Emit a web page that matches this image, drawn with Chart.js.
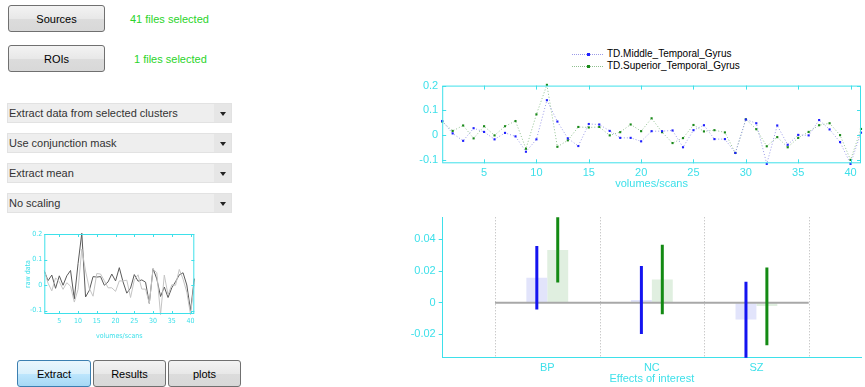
<!DOCTYPE html>
<html>
<head>
<meta charset="utf-8">
<script src="https://cdn.jsdelivr.net/npm/chart.js@4.4.1/dist/chart.umd.min.js"></script>
<style>
  body { margin: 0; width: 865px; height: 387px; background: #fff; position: relative; overflow: hidden;
         font-family: "Liberation Sans", Arial, sans-serif; }
  .btn { position: absolute; height: 27px; border: 1px solid #707070; border-radius: 3px; box-sizing: border-box;
         background: linear-gradient(#f3f3f3, #e8e8e8 50%, #dcdcdc 51%, #d8d8d8); font-size: 11px; color: #000;
         display: flex; align-items: center; justify-content: center; }
  .btn.sel { border-color: #3c7fb1; background: linear-gradient(#eaf6fd, #d9f0fc 50%, #bee6fd 51%, #a7d9f5); }
  .msg { position: absolute; font-size: 11px; color: #2ad42a; }
  .drop { position: absolute; left: 7px; width: 225px; height: 20px; background: #eeeeee; border: 1px solid #e2e2e2;
          box-sizing: border-box; font-size: 11px; color: #333; line-height: 18px; padding-left: 1px; }
  .drop::after { content: ""; position: absolute; right: 0; top: 0; width: 17px; height: 18px; background: #e6e6e6; }
  .drop span { position: absolute; right: 5px; top: 8px; width: 0; height: 0; border-left: 3px solid transparent;
               border-right: 3px solid transparent; border-top: 4px solid #222; z-index: 1; }
  canvas { position: absolute; }
  .leg { position: absolute; left: 572px; font-size: 10px; color: #000; height: 12px; }
  .leg i { position: absolute; left: 0; top: 6px; width: 31px; border-top: 1px dotted; }
  .leg b { position: absolute; left: 15px; top: 5px; width: 3px; height: 3px; }
  .leg em { position: absolute; left: 35px; top: 0; font-style: normal; white-space: nowrap; }
</style>
</head>
<body>
<div class="btn" style="left:8px;top:5px;width:97px;">Sources</div>
<div class="msg" style="left:130px;top:13px;">41 files selected</div>
<div class="btn" style="left:8px;top:45px;width:97px;">ROIs</div>
<div class="msg" style="left:134px;top:53px;">1 files selected</div>
<div class="drop" style="top:103px;">Extract data from selected clusters<span></span></div>
<div class="drop" style="top:133px;">Use conjunction mask<span></span></div>
<div class="drop" style="top:163px;">Extract mean<span></span></div>
<div class="drop" style="top:193px;">No scaling<span></span></div>
<div class="btn sel" style="left:17px;top:360px;width:74px;">Extract</div>
<div class="btn" style="left:93px;top:360px;width:73px;">Results</div>
<div class="btn" style="left:168px;top:360px;width:73px;">plots</div>

<div class="leg" style="top:48px;"><i style="border-color:#9a9ae8"></i><b style="background:#2020ff"></b><em>TD.Middle_Temporal_Gyrus</em></div>
<div class="leg" style="top:60px;"><i style="border-color:#90c090"></i><b style="background:#1a8a1a"></b><em>TD.Superior_Temporal_Gyrus</em></div>

<canvas id="thumb" width="200" height="117" style="left:0;top:225px;"></canvas>
<canvas id="series" width="470" height="120" style="left:395px;top:75px;"></canvas>
<canvas id="effects" width="470" height="182" style="left:395px;top:205px;"></canvas>

<script>
// scans (volumes) and the two ROI time series
var scans = [1,2,3,4,5,6,7,8,9,10,11,12,13,14,15,16,17,18,19,20,21,22,23,24,25,26,27,28,29,30,31,32,33,34,35,36,37,38,39,40,41];
var middleTG = [0.057, 0.007, -0.023, 0.028, 0.013, -0.017, 0.009, -0.005, -0.067, -0.017,
                0.141, 0.055, -0.013, -0.044, 0.045, 0.043, 0.017, -0.011, -0.011, -0.025,
                0.016, 0.016, 0.019, -0.049, 0.020, 0.040, -0.016, -0.016, -0.072, 0.063,
                0.048, -0.116, 0.039, -0.039, 0.001, -0.001, 0.061, 0.023, -0.028, -0.116, 0.010];
var superiorTG = [0.055, 0.017, 0.039, -0.013, 0.036, -0.001, 0.036, 0.057, -0.055, 0.084,
                  0.203, -0.047, -0.021, 0.033, 0.031, 0.033, -0.001, 0.012, 0.043, 0.016,
                  0.068, 0.012, -0.032, -0.012, 0.041, 0.015, 0.020, 0.011, -0.072, 0.064,
                  0.024, -0.045, -0.008, -0.049, -0.011, 0.013, 0.040, 0.048, 0.000, -0.100, 0.025];
var seriesTicks = [-0.1, 0, 0.1, 0.2];

// effects of interest
var groups = ['BP', 'NC', 'SZ'];
var middleEff = [0.0158, 0.0017, -0.0105];
var superiorEff = [0.0333, 0.0147, -0.0021];
var middleLow = [-0.0042, -0.0198, -0.0360];
var middleHigh = [0.0358, 0.0232, 0.0133];
var superiorLow = [0.0128, -0.0072, -0.0269];
var superiorHigh = [0.0570, 0.0366, 0.0223];
var effectTicks = [-0.02, 0, 0.02, 0.04];

var cyan = '#3ee0ea';
var font = 'Liberation Sans, Arial, sans-serif';

// matlab style box with ticks pointing inside
var boxTicks = {
    id: 'boxTicks',
    afterDraw: function(chart, args, opts) {
        var ctx = chart.ctx, a = chart.chartArea;
        var xs = chart.scales.x, ys = chart.scales.y;
        var len = opts.len || 4;
        ctx.save();
        ctx.strokeStyle = cyan;
        ctx.lineWidth = 1;
        ctx.strokeRect(a.left + 0.5, a.top + 0.5, a.right - a.left - 1, a.bottom - a.top - 1);
        ctx.beginPath();
        xs.ticks.forEach(function(t, i) {
            if ((i + 1) % 5 !== 0) return;
            var px = Math.round(xs.getPixelForTick(i)) + 0.5;
            ctx.moveTo(px, a.top); ctx.lineTo(px, a.top + len);
            ctx.moveTo(px, a.bottom); ctx.lineTo(px, a.bottom - len);
        });
        ys.ticks.forEach(function(t) {
            var py = Math.round(ys.getPixelForValue(t.value)) + 0.5;
            ctx.moveTo(a.left, py); ctx.lineTo(a.left + len, py);
            ctx.moveTo(a.right, py); ctx.lineTo(a.right - len, py);
        });
        ctx.stroke();
        ctx.restore();
    }
};

function fixTicks(list) {
    return function(scale) { scale.ticks = list.map(function(v) { return { value: v }; }); };
}

function everyFifth(val, i) { return (i + 1) % 5 === 0 ? this.getLabelForValue(val) : ''; }

// top: time series
new Chart(document.getElementById('series'), {
    type: 'line',
    data: {
        labels: scans,
        datasets: [{
            label: 'TD.Middle_Temporal_Gyrus',
            data: middleTG,
            borderColor: '#9a9ae8',
            borderWidth: 1,
            borderDash: [1, 2],
            pointStyle: 'rect',
            pointRadius: 1.5,
            pointBackgroundColor: '#2020ff',
            pointBorderWidth: 0,
            clip: false
        }, {
            label: 'TD.Superior_Temporal_Gyrus',
            data: superiorTG,
            borderColor: '#90c090',
            borderWidth: 1,
            borderDash: [1, 2],
            pointStyle: 'rect',
            pointRadius: 1.5,
            pointBackgroundColor: '#1a8a1a',
            pointBorderWidth: 0,
            clip: false
        }]
    },
    options: {
        responsive: false, animation: false, devicePixelRatio: 1,
        layout: { padding: { top: 8.3, right: 1.2, bottom: 0, left: 0 } },
        plugins: { legend: { display: false }, tooltip: { enabled: false }, boxTicks: { len: 4 } },
        scales: {
            x: {
                offset: false,
                grid: { display: false, drawTicks: false },
                border: { display: false },
                ticks: { autoSkip: false, maxRotation: 0, padding: 3, color: cyan, font: { family: font, size: 11 }, callback: everyFifth },
                title: { display: true, text: 'volumes/scans', color: cyan, font: { family: font, size: 11 }, padding: { top: 0, bottom: 4 } },
                afterFit: function(s) { s.height = 31.7; }
            },
            y: {
                min: -0.1137, max: 0.2,
                grid: { display: false, drawTicks: false },
                border: { display: false },
                afterBuildTicks: fixTicks(seriesTicks),
                ticks: { padding: 4, color: cyan, font: { family: font, size: 11 }, callback: function(v) { return String(v); } },
                afterFit: function(s) { s.width = 47.2; }
            }
        }
    },
    plugins: [boxTicks]
});

// left: small raw data preview
new Chart(document.getElementById('thumb'), {
    type: 'line',
    data: {
        labels: scans,
        datasets: [{
            data: middleTG, borderColor: '#c4c4c4', borderWidth: 1, pointRadius: 0, clip: false
        }, {
            data: superiorTG, borderColor: '#5a5a5a', borderWidth: 1, pointRadius: 0, clip: false
        }]
    },
    options: {
        responsive: false, animation: false, devicePixelRatio: 1,
        layout: { padding: { top: 9, right: 5.7, bottom: 0, left: 24 } },
        plugins: { legend: { display: false }, tooltip: { enabled: false }, boxTicks: { len: 3 } },
        scales: {
            x: {
                offset: false,
                grid: { display: false, drawTicks: false },
                border: { display: false },
                ticks: { autoSkip: false, maxRotation: 0, padding: 3, color: cyan, font: { family: 'DejaVu Sans Condensed', size: 7 }, callback: everyFifth },
                title: { display: true, text: 'volumes/scans', color: cyan, font: { family: 'DejaVu Sans Condensed', size: 7 }, padding: { top: 0, bottom: 2 } },
                afterFit: function(s) { s.height = 28; }
            },
            y: {
                min: -0.1137, max: 0.2,
                grid: { display: false, drawTicks: false },
                border: { display: false },
                afterBuildTicks: fixTicks(seriesTicks),
                ticks: { padding: 2, color: cyan, font: { family: 'DejaVu Sans Condensed', size: 7 }, callback: function(v) { return String(v); } },
                title: { display: true, text: 'raw data', color: cyan, font: { family: 'DejaVu Sans Condensed', size: 7 }, padding: { top: 0, bottom: 0 } },
                afterFit: function(s) { s.width = 20.3; }
            }
        }
    },
    plugins: [boxTicks]
});

// bottom: effects with error bars
var effectLabels = [''].concat(groups, ['']);
function pad(arr) { return [null].concat(arr, [null]); }

var effectLines = {
    id: 'effectLines',
    beforeDatasetsDraw: function(chart) {
        var ctx = chart.ctx, a = chart.chartArea, xs = chart.scales.x;
        ctx.save();
        ctx.strokeStyle = '#b4b4b4';
        ctx.lineWidth = 1;
        ctx.setLineDash([1, 2]);
        ctx.beginPath();
        for (var k = 0; k <= groups.length; k++) {
            var px = Math.round(xs.getPixelForValue(k + 0.5)) + 0.5;
            ctx.moveTo(px, a.top); ctx.lineTo(px, a.bottom);
        }
        ctx.stroke();
        ctx.restore();
    },
    afterDatasetsDraw: function(chart) {
        var ctx = chart.ctx, a = chart.chartArea, xs = chart.scales.x, ys = chart.scales.y;
        ctx.save();
        ctx.beginPath();
        ctx.rect(a.left, a.top, a.right - a.left, a.bottom - a.top);
        ctx.clip();
        ctx.strokeStyle = '#a8a8a8';
        ctx.lineWidth = 2;
        ctx.beginPath();
        ctx.moveTo(xs.getPixelForValue(0.5), ys.getPixelForValue(0));
        ctx.lineTo(xs.getPixelForValue(groups.length + 0.5), ys.getPixelForValue(0));
        ctx.stroke();
        var errs = [[middleLow, middleHigh, '#1414f0'], [superiorLow, superiorHigh, '#138a13']];
        errs.forEach(function(e, d) {
            var meta = chart.getDatasetMeta(d);
            ctx.strokeStyle = e[2];
            ctx.lineWidth = 3;
            groups.forEach(function(g, i) {
                var bar = meta.data[i + 1];
                ctx.beginPath();
                ctx.moveTo(bar.x, ys.getPixelForValue(e[0][i]));
                ctx.lineTo(bar.x, ys.getPixelForValue(e[1][i]));
                ctx.stroke();
            });
        });
        ctx.restore();
    }
};

new Chart(document.getElementById('effects'), {
    type: 'bar',
    data: {
        labels: effectLabels,
        datasets: [{
            label: 'TD.Middle_Temporal_Gyrus',
            data: pad(middleEff),
            backgroundColor: '#e2e4fb'
        }, {
            label: 'TD.Superior_Temporal_Gyrus',
            data: pad(superiorEff),
            backgroundColor: '#e0efe0'
        }]
    },
    options: {
        responsive: false, animation: false, devicePixelRatio: 1,
        categoryPercentage: 0.4, barPercentage: 1,
        layout: { padding: { top: 12.3, right: 0, bottom: 0, left: 0 } },
        plugins: { legend: { display: false }, tooltip: { enabled: false } },
        scales: {
            x: {
                offset: false,
                grid: { display: false, drawTicks: false },
                border: { display: true, color: cyan, width: 1 },
                ticks: { autoSkip: false, maxRotation: 0, padding: 4, color: cyan, font: { family: font, size: 11 } },
                title: { display: true, text: 'Effects of interest', color: cyan, font: { family: font, size: 11 }, padding: { top: 0, bottom: 1 } },
                afterFit: function(s) { s.height = 29.3; }
            },
            y: {
                min: -0.0347, max: 0.054,
                grid: { display: true, drawOnChartArea: false, drawTicks: true, tickLength: 4, color: cyan },
                border: { display: true, color: cyan, width: 1 },
                afterBuildTicks: fixTicks(effectTicks),
                ticks: { padding: 3, color: cyan, font: { family: font, size: 11 }, callback: function(v) { return String(v); } },
                afterFit: function(s) { s.width = 47.7; }
            }
        }
    },
    plugins: [effectLines]
});
</script>
</body>
</html>
